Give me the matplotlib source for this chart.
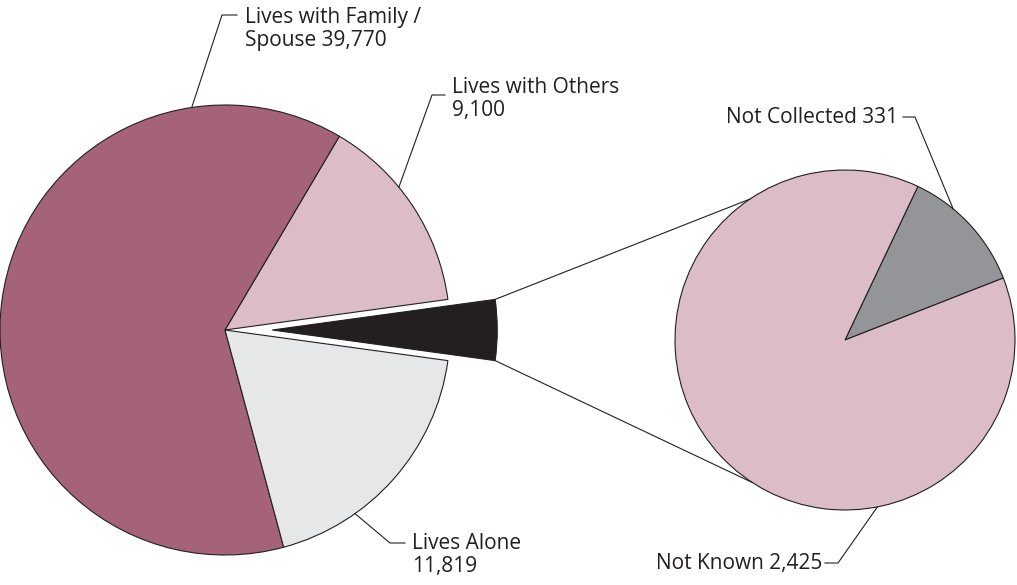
import numpy as np
import matplotlib.pyplot as plt

plt.rcParams['font.family'] = ['Open Sans', 'DejaVu Sans']

# data
main_labels = ["Lives with Family /\nSpouse", "Lives with Others", "Lives Alone"]
main_values = [39770, 9100, 11819]
sub_labels = ["Not Collected", "Not Known"]
sub_values = [331, 2425]

ink = "#231F20"
main_colors = ["#A5637A", "#DCBDC7", "#E6E7E9"]
sub_colors = ["#939598", "#DCBDC7"]

W, H = 1017, 585
fig = plt.figure(figsize=(W / 100, H / 100), dpi=100)
ax = fig.add_axes([0, 0, 1, 1])

# left pie: black "other" slice first, then Others, Family, Alone (counterclockwise)
other = sum(sub_values)
vals = [other, main_values[1], main_values[0], main_values[2]]
cols = [ink, main_colors[1], main_colors[0], main_colors[2]]
total = sum(vals)
other_deg = other / total * 360
c1, r1 = (225, 255), 225
expl = 0.21 * r1
wedges1, _ = ax.pie(vals, colors=cols, center=c1, radius=r1, startangle=-other_deg / 2,
                    explode=[expl, 0, 0, 0], counterclock=True,
                    wedgeprops=dict(edgecolor=ink, linewidth=0.8))

# right pie
c2, r2 = (845, 245), 170
sub_total = sum(sub_values)
nc_deg = sub_values[0] / sub_total * 360
wedges2, _ = ax.pie(sub_values, colors=sub_colors, center=c2, radius=r2,
                    startangle=43 - nc_deg / 2,
                    wedgeprops=dict(edgecolor=ink, linewidth=0.8))

# connector lines from the exploded slice to the right pie
bw = wedges1[0]
tip = np.array(bw.center)
for ang_left, ang_right in [(bw.theta2, 124), (bw.theta1, -123)]:
    p1 = tip + r1 * np.array([np.cos(np.radians(ang_left)), np.sin(np.radians(ang_left))])
    p2 = np.array(c2) + r2 * np.array([np.cos(np.radians(ang_right)), np.sin(np.radians(ang_right))])
    ax.plot([p1[0], p2[0]], [p1[1], p2[1]], color=ink, lw=0.8)


def on_circle(c, r, deg):
    return c[0] + r * np.cos(np.radians(deg)), c[1] + r * np.sin(np.radians(deg))


def leader(c, r, deg, elbow, end, text, tx, ty, ha="left"):
    x0, y0 = on_circle(c, r, deg)
    ax.plot([x0, elbow[0], end[0]], [y0, elbow[1], end[1]], color=ink, lw=0.8)
    ax.text(tx, ty, text, ha=ha, va="top", fontsize=15, color=ink, linespacing=1.15)


fmt = lambda v: f"{v:,}"
leader(c1, r1, 98.5, (222, H - 15), (237, H - 15),
       f"{main_labels[0]} {fmt(main_values[0])}", 245, H - 7)
leader(c1, r1, 39.4, (432, H - 95), (445, H - 95),
       f"{main_labels[1]}\n{fmt(main_values[1])}", 452, H - 77)
leader(c1, r1, -54.7, (390, H - 543), (405, H - 543),
       f"{main_labels[2]}\n{fmt(main_values[2])}", 412, H - 533)
leader(c2, r2, 50.5, (915, H - 117), (903, H - 117),
       f"{sub_labels[0]} {fmt(sub_values[0])}", 898, H - 107, ha="right")
leader(c2, r2, -79, (838, H - 563), (825, H - 563),
       f"{sub_labels[1]} {fmt(sub_values[1])}", 822, H - 553, ha="right")

ax.set_xlim(0, W)
ax.set_ylim(0, H)
ax.set_aspect("equal")
ax.axis("off")
fig.savefig("out.png", dpi=100)
